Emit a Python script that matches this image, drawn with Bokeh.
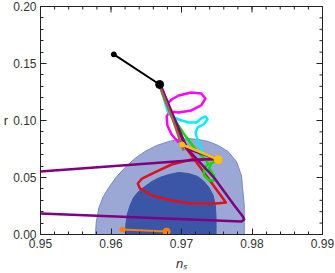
from bokeh.plotting import figure
from bokeh.models import FixedTicker, Range1d
from bokeh.embed import file_html
from bokeh.resources import INLINE

# ---------------- data ----------------
x_ticks = [0.95, 0.96, 0.97, 0.98, 0.99]
x_tick_labels = ["0.95", "0.96", "0.97", "0.98", "0.99"]
y_ticks = [0.0, 0.05, 0.10, 0.15, 0.20]
y_tick_labels = ["0.00", "0.05", "0.10", "0.15", "0.20"]
x_minor = [round(0.95 + 0.002 * i, 3) for i in range(21)]
y_minor = [round(0.01 * i, 2) for i in range(21)]

# 95% CL region (outer, light)
outer_ns = [0.9578, 0.9579, 0.9583, 0.9589, 0.9597, 0.9607, 0.9620, 0.9634, 0.9648,
            0.9665, 0.9682, 0.9696, 0.9710, 0.9724, 0.9738, 0.9752, 0.9766, 0.9778,
            0.9785, 0.9787, 0.9789, 0.9789, 0.9789]
outer_r = [0.0, 0.0105, 0.0237, 0.0333, 0.0412, 0.0500, 0.0588, 0.0667, 0.0728,
           0.0781, 0.0816, 0.0833, 0.0842, 0.0833, 0.0816, 0.0781, 0.0728, 0.0640,
           0.0518, 0.0386, 0.0254, 0.0123, 0.0]
# 68% CL region (inner, dark)
inner_ns = [0.9621, 0.9621, 0.9623, 0.9627, 0.9632, 0.9639, 0.9648, 0.9658, 0.9669,
            0.9682, 0.9696, 0.9710, 0.9723, 0.9732, 0.9739, 0.9745, 0.9748, 0.9749, 0.9749]
inner_r = [0.0, 0.0088, 0.0175, 0.0254, 0.0325, 0.0377, 0.0421, 0.0465, 0.0500,
           0.0526, 0.0544, 0.0535, 0.0509, 0.0465, 0.0412, 0.0342, 0.0254, 0.0149, 0.0]

# black segment
black_ns = [0.9604, 0.9669]
black_r = [0.1580, 0.1316]
black_size = [5, 8]

# purple curves
purple1_ns = [0.9500, 0.9749, 0.9707, 0.9689, 0.9669]
purple1_r = [0.0553, 0.0667, 0.0754, 0.1018, 0.1316]
purple2_ns = [0.9670, 0.9690, 0.9708, 0.9746, 0.9775, 0.9787, 0.9789, 0.9785, 0.9500]
purple2_r = [0.1316, 0.1018, 0.0754, 0.0500, 0.0254, 0.0158, 0.0132, 0.0114, 0.0184]

# red curve
red_ns = [0.9669, 0.9689, 0.9707, 0.9763, 0.9749, 0.9714, 0.9686, 0.9658, 0.9641,
          0.9638, 0.9644, 0.9662, 0.9686, 0.9714, 0.9749]
red_r = [0.1316, 0.1018, 0.0754, 0.0281, 0.0272, 0.0272, 0.0298, 0.0342, 0.0404,
         0.0447, 0.0491, 0.0544, 0.0614, 0.0658, 0.0658]

# brown curve
brown_ns = [0.9668, 0.9687, 0.9703]
brown_r = [0.1316, 0.1018, 0.0737]

# magenta curve
magenta_ns = [0.9669, 0.9680, 0.9686, 0.9696, 0.9714, 0.9728, 0.9734, 0.9728, 0.9714,
              0.9696, 0.9683, 0.9679, 0.9680, 0.9686, 0.9696]
magenta_r = [0.1316, 0.1149, 0.1184, 0.1219, 0.1246, 0.1237, 0.1193, 0.1132, 0.1088,
             0.1070, 0.1079, 0.1035, 0.0956, 0.0877, 0.0807]

# cyan curve
cyan_ns = [0.9669, 0.9680, 0.9686, 0.9696, 0.9710, 0.9721, 0.9728, 0.9734, 0.9737,
           0.9731, 0.9723, 0.9720, 0.9723, 0.9727, 0.9732]
cyan_r = [0.1316, 0.1088, 0.1035, 0.1009, 0.0982, 0.0982, 0.1018, 0.1035, 0.1009,
          0.0965, 0.0939, 0.0895, 0.0825, 0.0763, 0.0693]

# green curve
green_ns = [0.9669, 0.9689, 0.9703, 0.9721, 0.9731, 0.9738, 0.9732, 0.9732, 0.9739,
            0.9746, 0.9746, 0.9739, 0.9742, 0.9752]
green_r = [0.1316, 0.1018, 0.0886, 0.0737, 0.0675, 0.0623, 0.0579, 0.0518, 0.0474,
           0.0474, 0.0518, 0.0579, 0.0623, 0.0658]

# yellow segment
yellow_ns = [0.9701, 0.9752]
yellow_r = [0.0789, 0.0658]
yellow_size = [5, 8]

# orange segment
orange_ns = [0.9616, 0.9679]
orange_r = [0.0044, 0.0026]
orange_size = [5, 7]

FRAME = "#222222"

# ---------------- figure ----------------
p = figure(width=335, height=273, output_backend="svg", toolbar_location=None,
           x_range=Range1d(0.95, 0.99), y_range=Range1d(0.0, 0.20),
           min_border_left=38, min_border_right=13, min_border_top=6, min_border_bottom=39,
           background_fill_color="white", border_fill_color="white")
p.grid.visible = False
p.outline_line_color = FRAME
p.outline_line_width = 1

p.xaxis.ticker = FixedTicker(ticks=x_ticks, minor_ticks=x_minor)
p.yaxis.ticker = FixedTicker(ticks=y_ticks, minor_ticks=y_minor)
p.xaxis.major_label_overrides = dict(zip(x_ticks, x_tick_labels))
p.yaxis.major_label_overrides = dict(zip(y_ticks, y_tick_labels))

for ax in (p.xaxis[0], p.yaxis[0]):
    ax.major_tick_in = 6
    ax.major_tick_out = 0
    ax.minor_tick_in = 3
    ax.minor_tick_out = 0
    ax.axis_line_color = FRAME
    ax.major_tick_line_color = FRAME
    ax.minor_tick_line_color = FRAME
    ax.major_label_text_font = "Liberation Sans"
    ax.major_label_text_font_size = "12px"
    ax.major_label_text_color = "#333333"
    ax.axis_label_text_font = "Liberation Sans"
    ax.axis_label_text_font_size = "13px"
    ax.axis_label_text_color = "#333333"

p.xaxis.major_label_standoff = 4
p.yaxis.major_label_standoff = 4
p.xaxis.axis_label = "nₛ"
p.xaxis.axis_label_text_font_style = "italic"
p.xaxis.axis_label_standoff = 5
p.yaxis.axis_label = "r"
p.yaxis.axis_label_text_font_style = "normal"
p.yaxis.axis_label_standoff = 2
p.yaxis.axis_label_orientation = "horizontal"

# contours
p.patch(outer_ns, outer_r, fill_color="#9ba8d6", line_color="#7589c8", line_width=1)
p.patch(inner_ns, inner_r, fill_color="#3b56a7", line_color="#3b56a7", line_width=1)

lw = 2.5
p.line(red_ns, red_r, line_color="#e0101a", line_width=lw, line_join="round")
p.line(green_ns, green_r, line_color="#00e000", line_width=lw, line_join="round")
p.line(magenta_ns, magenta_r, line_color="#ff00ff", line_width=lw, line_join="round")
p.line(cyan_ns, cyan_r, line_color="#00f0ff", line_width=lw, line_join="round")
p.line(purple1_ns, purple1_r, line_color="#800080", line_width=lw, line_join="round")
p.line(purple2_ns, purple2_r, line_color="#800080", line_width=lw, line_join="round")
p.line(brown_ns, brown_r, line_color="#9c6a38", line_width=lw, line_join="round")

p.line(yellow_ns, yellow_r, line_color="#ffc000", line_width=lw)
p.scatter(yellow_ns, yellow_r, size=yellow_size, color="#ffc000")

p.line(black_ns, black_r, line_color="black", line_width=2)
p.scatter(black_ns, black_r, size=black_size, color="black")

p.line(orange_ns, orange_r, line_color="#ff8000", line_width=2)
p.scatter(orange_ns, orange_r, size=orange_size, color="#ff8000")

# mirrored inward ticks on top and right edges (half of each dash is clipped by the frame)
p.scatter(x_ticks, [0.20] * len(x_ticks), marker="dash", size=12, angle=90, angle_units="deg",
          line_color=FRAME, line_width=1)
p.scatter(x_minor, [0.20] * len(x_minor), marker="dash", size=6, angle=90, angle_units="deg",
          line_color=FRAME, line_width=1)
p.scatter([0.99] * len(y_ticks), y_ticks, marker="dash", size=12,
          line_color=FRAME, line_width=1)
p.scatter([0.99] * len(y_minor), y_minor, marker="dash", size=6,
          line_color=FRAME, line_width=1)

open("out.html", "w").write(file_html(p, INLINE))
